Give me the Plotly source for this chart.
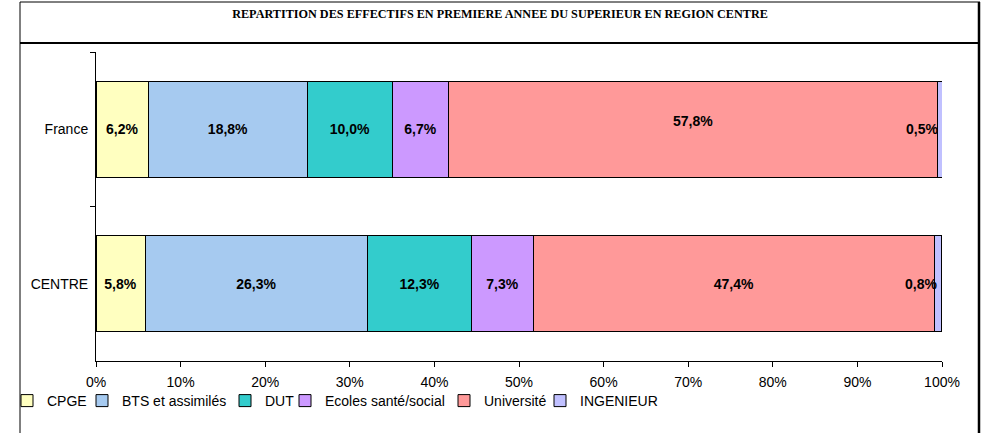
import plotly.graph_objects as go

categories = ["France", "CENTRE"]
series_names = ["CPGE", "BTS et assimilés", "DUT", "Ecoles santé/social", "Université", "INGENIEUR"]
cpge = [6.2, 5.8]
bts = [18.8, 26.3]
dut = [10.0, 12.3]
ecoles = [6.7, 7.3]
universite = [57.8, 47.4]
ingenieur = [0.5, 0.8]
x_ticks = [0, 10, 20, 30, 40, 50, 60, 70, 80, 90, 100]
x_tick_labels = [f"{v}%" for v in x_ticks]
title_text = "REPARTITION DES EFFECTIFS EN PREMIERE ANNEE DU SUPERIEUR EN REGION CENTRE"

series_values = [cpge, bts, dut, ecoles, universite, ingenieur]
colors = ["#FFFFC0", "#A6CAF0", "#33CCCC", "#CC99FF", "#FF9999", "#C0C0FF"]

W, H = 994, 433
L, R, T, B = 96, 52, 52, 72
PW, PH = W - L - R, H - T - B

def px2x(px):
    return (px - L) / PW

def py2y(py):
    return 1 - (py - T) / PH

# legend placement (pixel left edges of each legend block)
legend_left_px = [7, 82, 225, 285, 444, 540]
legend_y_px = 401

fig = go.Figure()
for i, (name, vals, col) in enumerate(zip(series_names, series_values, colors)):
    if name == "INGENIEUR":
        tt = ["", ""]
    elif name == "Université":
        tt = ["", "%{x:.1f}%"]
    else:
        tt = "%{x:.1f}%"
    leg = "legend" if i == 0 else f"legend{i+1}"
    fig.add_trace(go.Bar(
        y=categories, x=vals, name=name, orientation="h",
        marker=dict(color=col, line=dict(color="#000000", width=1)),
        texttemplate=tt, textposition="inside", insidetextanchor="middle",
        textangle=0, constraintext="none",
        textfont=dict(family="Liberation Sans", size=14, color="#000000", weight="bold"),
        legend=leg, showlegend=True, hoverinfo="skip",
    ))

# annotations for labels of tiny bars and the offset France Université label
for j, cat in enumerate(categories):
    total = sum(v[j] for v in series_values)
    fig.add_annotation(x=total, y=cat, xref="x", yref="y", xanchor="right", xshift=-2,
                       text=f"{ingenieur[j]:.1f}%".replace(".", ","), showarrow=False,
                       font=dict(family="Liberation Sans", size=14, color="#000000", weight="bold"))
start = sum(v[0] for v in series_values[:4])
fig.add_annotation(x=start + universite[0] / 2, y=categories[0], xref="x", yref="y",
                   yshift=8, showarrow=False,
                   text=f"{universite[0]:.1f}%".replace(".", ","),
                   font=dict(family="Liberation Sans", size=14, color="#000000", weight="bold"))

# frame shapes
frame = [
    (20, 2, 20, 440, 1),
    (20, 2, 980, 2, 1),
    (20, 43, 980, 43, 2),
    (979, 2, 979, 440, 2.5),
]
for x0, y0, x1, y1, w in frame:
    fig.add_shape(type="line", xref="paper", yref="paper",
                  x0=px2x(x0), y0=py2y(y0), x1=px2x(x1), y1=py2y(y1),
                  line=dict(color="#000000", width=w))

legends = {}
for i, lx in enumerate(legend_left_px):
    key = "legend" if i == 0 else f"legend{i+1}"
    legends[key] = dict(
        x=px2x(lx), y=py2y(legend_y_px), xanchor="left", yanchor="middle",
        orientation="h", itemwidth=30, bgcolor="rgba(0,0,0,0)",
        font=dict(family="Liberation Sans", size=14, color="#000000"),
        itemclick=False, itemdoubleclick=False,
    )

fig.update_layout(
    width=W, height=H,
    margin=dict(l=L, r=R, t=T, b=B, pad=0, autoexpand=False),
    barmode="stack", bargap=0.38,
    separators=", ",
    paper_bgcolor="white", plot_bgcolor="white",
    title=dict(text=title_text, x=500 / W, xanchor="center", y=1 - 14 / H, yanchor="middle",
               font=dict(family="Liberation Serif", size=12.2, color="#000000", weight="bold")),
    xaxis=dict(range=[0, 100], tickmode="array", tickvals=x_ticks, ticktext=x_tick_labels,
               showgrid=False, zeroline=False, automargin=False, ticklabelstandoff=3,
               showline=True, linecolor="#000000", linewidth=1, ticks="outside", ticklen=5,
               tickcolor="#000000", tickfont=dict(family="Liberation Sans", size=14, color="#000000")),
    yaxis=dict(autorange="reversed", showgrid=False, zeroline=False, showline=True, automargin=False,
               linecolor="#000000", linewidth=1, ticks="outside", ticklen=5, tickcolor="#000000",
               tickson="boundaries", ticklabelstandoff=4,
               tickfont=dict(family="Liberation Sans", size=14, color="#000000")),
    showlegend=True,
    **legends,
)

fig.write_html("out.html", config={"displayModeBar": False},
               post_script="document.body.style.margin='0';")
